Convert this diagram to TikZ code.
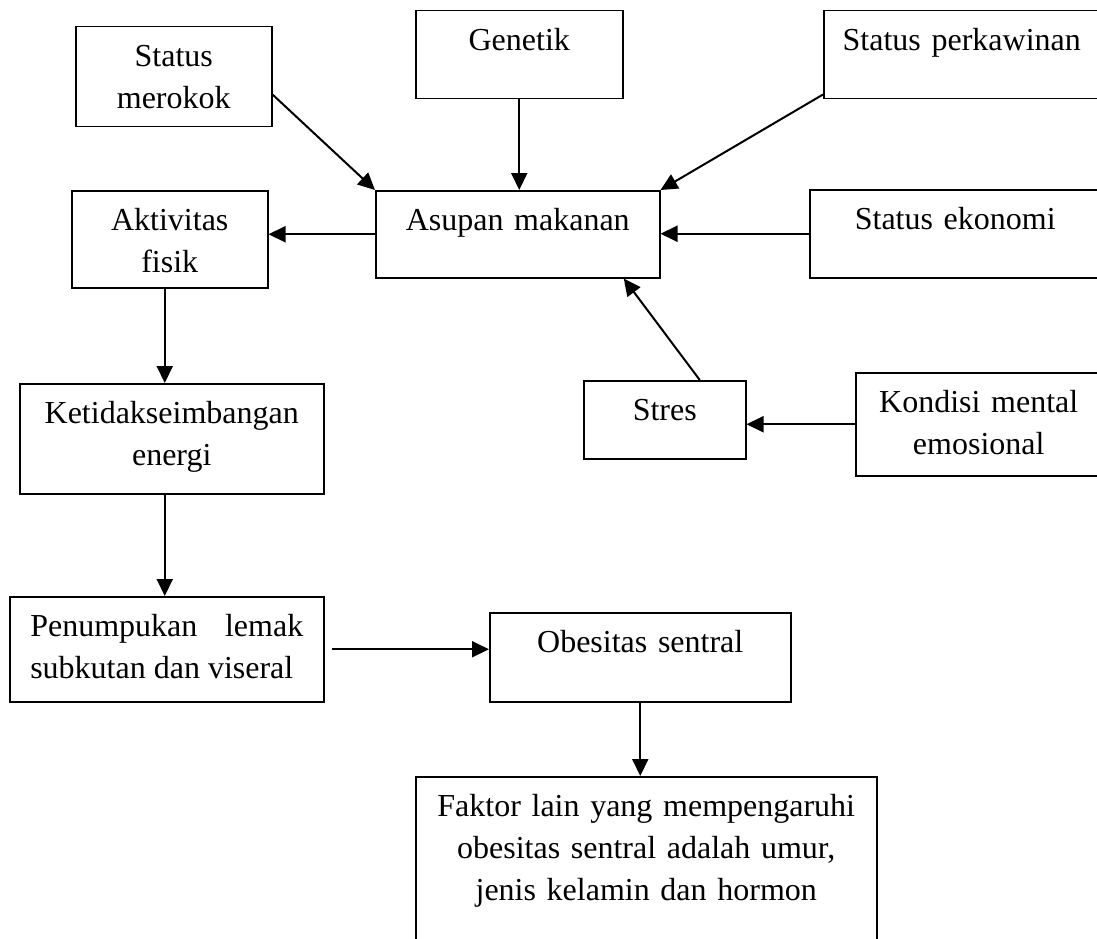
\documentclass[tikz,border=0pt]{standalone}
\usepackage{fontspec}
\setmainfont{Liberation Serif}
\usetikzlibrary{arrows.meta}

\begin{document}
\begin{tikzpicture}[
    x=1pt, y=-1pt,
    box/.style={draw, line width=1.5pt, inner sep=0pt, align=center, anchor=north west,
        text height=40pt, font=\fontsize{32}{42}\selectfont},
    line/.style={draw, line width=2pt, -{Triangle[length=17pt,width=16pt]}}]

    \useasboundingbox (0,0) rectangle (1097,939);

    % Central node
    \node[box, text width=284pt, text depth=47pt] (asupan) at (375,190) {Asupan makanan};

    % Factors around the intake
    \node[box, text width=196pt, text depth=60pt] (merokok) at (75,26) {Status\\merokok};
    \node[box, text width=207pt, text depth=48pt] (genetik) at (415,10) {Genetik};
    \node[box, text width=276pt, text depth=48pt] (perkawinan) at (823,10) {Status perkawinan};
    \node[box, text width=291pt, text depth=48pt] (ekonomi) at (809,189) {Status ekonomi};
    \node[box, text width=162pt, text depth=38pt] (stres) at (583,380) {Stres};
    \node[box, text width=246pt, text depth=63pt] (kondisi) at (855,372) {Kondisi mental\\emosional};

    % Chain down to the outcome
    \node[box, text width=196pt, text depth=57pt] (aktivitas) at (71,190) {Aktivitas\\fisik};
    \node[box, text width=304pt, text depth=70pt] (ketidak) at (19,383) {Ketidakseimbangan\\energi};
    \node[box, text width=273pt, inner xsep=20.5pt, align=justify, text depth=65pt] (penumpukan) at (9,596)
        {Penumpukan lemak subkutan dan viseral};
    \node[box, text width=301pt, text depth=49pt] (obesitas) at (489,612) {Obesitas sentral};
    \node[box, text width=461pt, text depth=180pt] (faktor) at (415,776)
        {Faktor lain yang mempengaruhi\\obesitas sentral adalah umur,\\jenis kelamin dan hormon};

    % Connect factors
    \path[line] ([yshift=33pt]merokok.south east) -- (asupan.north west);
    \path[line] (genetik.south) -- (genetik.south |- asupan.north);
    \path[line] ([yshift=5pt]perkawinan.south west) -- (asupan.north east);
    \path[line] (ekonomi.west) -- (ekonomi.west -| asupan.east);
    \path[line] ([xshift=35pt]stres.north) -- ([xshift=106pt]asupan.south);
    \path[line] (kondisi.west) -- (kondisi.west -| stres.east);

    % Connect chain
    \path[line] (asupan.west) -- (asupan.west -| aktivitas.east);
    \path[line] ([xshift=-5pt]aktivitas.south) -- ([xshift=-7pt]ketidak.north);
    \path[line] ([xshift=-7pt]ketidak.south) -- ([xshift=-2pt]penumpukan.north);
    \path[line] ([xshift=7pt]penumpukan.east) -- (penumpukan.east -| obesitas.west);
    \path[line] (obesitas.south) -- (obesitas.south |- faktor.north);
\end{tikzpicture}
\end{document}
